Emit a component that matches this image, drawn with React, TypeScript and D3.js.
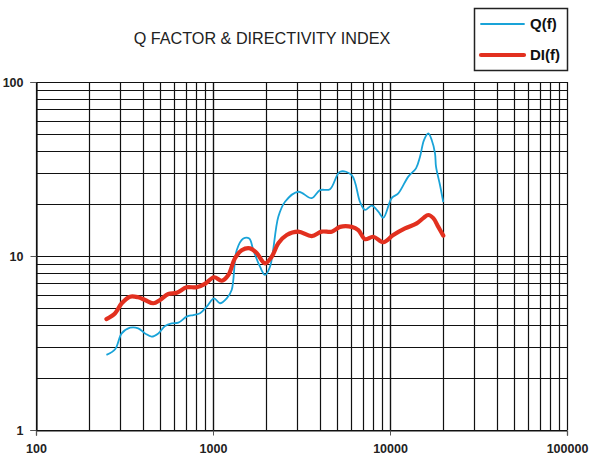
// App.tsx
// Q factor & directivity index chart, log/log, drawn with d3
import * as d3 from 'd3';
import React, { useRef, useEffect } from 'react';

const qFreq = [250, 280, 305, 340, 378, 413, 450, 491, 536, 584, 637, 710, 774, 845, 921, 1013, 1095, 1195, 1275, 1361, 1484, 1603, 1690, 1843, 1967, 2099, 2339, 2552, 3034, 3611, 4022, 4581, 5219, 6075, 6768, 7224, 7882, 8590, 9166, 10221, 11140, 12688, 14025, 14775, 15560, 16460, 17203, 17960, 18197, 19160, 20000];
const qValues = [2.70, 2.91, 3.59, 3.87, 3.84, 3.59, 3.44, 3.59, 3.96, 4.10, 4.14, 4.48, 4.58, 4.69, 5.11, 5.71, 5.35, 5.71, 6.38, 10.8, 12.6, 12.6, 10.8, 8.68, 7.78, 8.68, 16.8, 20.5, 23.4, 21.5, 23.9, 24.2, 30.5, 29.2, 20.5, 18.4, 19.5, 18.0, 16.6, 21.5, 22.9, 28.6, 31.9, 37.2, 46.4, 50.7, 46.4, 38.9, 32.6, 25.6, 20.4];

const diFreq = [250, 280, 305, 340, 378, 413, 460, 502, 559, 624, 710, 809, 901, 1013, 1120, 1221, 1331, 1453, 1619, 1766, 1967, 2146, 2339, 2609, 3034, 3611, 4111, 4683, 5219, 6075, 6622, 7224, 8046, 9166, 10438, 12153, 14151, 15420, 16460, 17566, 18750, 20000];
const diValues = [4.34, 4.69, 5.35, 5.84, 5.79, 5.59, 5.35, 5.59, 6.05, 6.15, 6.61, 6.61, 6.91, 7.55, 7.21, 7.78, 9.70, 10.8, 11.07, 10.4, 9.08, 9.91, 11.83, 13.2, 13.8, 13.0, 13.8, 13.8, 14.7, 14.7, 14.1, 12.5, 12.9, 12.0, 13.2, 14.4, 15.4, 16.5, 17.2, 16.5, 14.7, 13.1];

const xTickLabels = [100, 1000, 10000, 100000];
const yTickLabels = [1, 10, 100];

const title = 'Q FACTOR & DIRECTIVITY INDEX';
const seriesNames = ['Q(f)', 'DI(f)'];

function App() {
    const ref = useRef<SVGSVGElement>(null);
    const width = 593;
    const height = 459;

    useEffect(() => {
        const svg = d3.select(ref.current);
        svg.selectAll('*').remove();

        const left = 36, right = 567, top = 82, bottom = 430;

        const x = d3.scaleLog().domain([100, 100000]).range([left, right]);
        const y = d3.scaleLog().domain([1, 100]).range([bottom, top]);

        svg.append('rect').attr('width', width).attr('height', height).attr('fill', '#fff');

        // grid
        const grid = svg.append('g');
        var xs = [];
        for (var d = 100; d < 100000; d *= 10) {
            for (var k = 1; k <= 10; k++) xs.push(d * k);
        }
        var ys = [];
        for (var d2 = 1; d2 < 100; d2 *= 10) {
            for (var k2 = 1; k2 <= 10; k2++) ys.push(d2 * k2);
        }
        grid.selectAll('line.v').data(xs).enter().append('line')
            .attr('x1', (v) => Math.round(x(v)) + 0.5)
            .attr('x2', (v) => Math.round(x(v)) + 0.5)
            .attr('y1', top).attr('y2', bottom)
            .attr('stroke', '#111').attr('stroke-width', 1.2);
        grid.selectAll('line.h').data(ys).enter().append('line')
            .attr('y1', (v) => Math.round(y(v)) + 0.5)
            .attr('y2', (v) => Math.round(y(v)) + 0.5)
            .attr('x1', left).attr('x2', right)
            .attr('stroke', '#111').attr('stroke-width', 1.2);

        // axes
        const xAxis = svg.append('g')
            .attr('transform', 'translate(0,' + (bottom + 0.5) + ')')
            .call(d3.axisBottom(x).tickValues(xTickLabels).tickFormat(d3.format('d')).tickSize(5).tickPadding(9));
        const yAxis = svg.append('g')
            .attr('transform', 'translate(' + (left + 0.5) + ',0)')
            .call(d3.axisLeft(y).tickValues(yTickLabels).tickFormat(d3.format('d')).tickSize(6).tickPadding(7));
        [xAxis, yAxis].forEach((g) => {
            g.select('.domain').attr('stroke', '#111').attr('stroke-width', 1.2);
            g.selectAll('.tick line').attr('stroke', '#555');
            g.selectAll('.tick text')
                .attr('font-family', 'Liberation Sans, Arial, sans-serif')
                .attr('font-size', 12.5).attr('font-weight', 'bold').attr('fill', '#222');
        });

        // curves
        const line = d3.line<[number, number]>()
            .x((p) => x(p[0]))
            .y((p) => y(p[1]))
            .curve(d3.curveCatmullRom);
        svg.append('path')
            .datum(qFreq.map((f, i) => [f, qValues[i]] as [number, number]))
            .attr('d', line)
            .attr('fill', 'none').attr('stroke', '#19a3d8').attr('stroke-width', 1.8)
            .attr('stroke-linejoin', 'round');
        svg.append('path')
            .datum(diFreq.map((f, i) => [f, diValues[i]] as [number, number]))
            .attr('d', line)
            .attr('fill', 'none').attr('stroke', '#e2301f').attr('stroke-width', 4.2)
            .attr('stroke-linejoin', 'round').attr('stroke-linecap', 'round');

        // title
        svg.append('text')
            .attr('x', 262).attr('y', 43.5)
            .attr('text-anchor', 'middle')
            .attr('font-family', 'Liberation Sans, Arial, sans-serif')
            .attr('font-size', 16.2).attr('fill', '#222')
            .text(title);

        // legend
        const lg = svg.append('g');
        lg.append('rect').attr('x', 474.5).attr('y', 8.5).attr('width', 93).attr('height', 62)
            .attr('fill', '#fff').attr('stroke', '#222').attr('stroke-width', 1.5);
        const colors = ['#19a3d8', '#e2301f'];
        const widths = [1.8, 4.2];
        seriesNames.forEach((name, i) => {
            const yy = 24 + i * 31;
            lg.append('line').attr('x1', 481).attr('x2', 524).attr('y1', yy).attr('y2', yy)
                .attr('stroke', colors[i]).attr('stroke-width', widths[i]).attr('stroke-linecap', 'round');
            lg.append('text').attr('x', 530).attr('y', yy + 5)
                .attr('font-family', 'Liberation Sans, Arial, sans-serif')
                .attr('font-size', 15).attr('font-weight', 'bold').attr('fill', '#111')
                .text(name);
        });
    }, []);

    return (
        <svg ref={ref} width={width} height={height} style={{ position: 'absolute', left: 0, top: 0 }}>
        </svg>
    );
}

export default App;
